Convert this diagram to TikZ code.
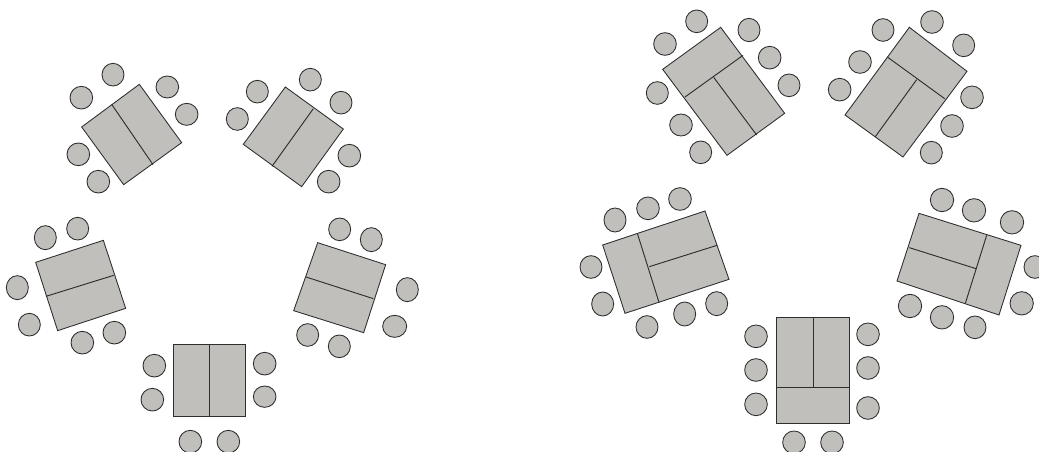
\documentclass[tikz,border=0pt]{standalone}
\usepackage{xcolor}
\definecolor{tablegray}{HTML}{C0BFBC}
\definecolor{edgegray}{HTML}{2E2E2E}
\tikzset{
  tablebox/.style={fill=tablegray,draw=edgegray,line width=0.65pt,line join=miter},
  divider/.style={draw=edgegray,line width=0.7pt},
  seat/.style={fill=tablegray,draw=edgegray,line width=0.65pt},
}
\begin{document}
\begin{tikzpicture}[x=0.25pt,y=-0.25pt,line join=round]
  \useasboundingbox (0,0) rectangle (3117,1356);
  \clip (0,0) rectangle (3117,1356);
  % five tables for four
  \begin{scope}[shift={(0,150)}]
    \draw[tablebox] (245,231) -- (418,103) -- (545,278) -- (371,404) -- cycle;
    \draw[divider] (335,163) -- (459,344);
    \draw[seat] (339,74) ellipse (33 and 34);
    \draw[seat] (244,143) circle (34);
    \draw[seat] (502,111) ellipse (34 and 33);
    \draw[seat] (560,193) ellipse (34 and 33);
    \draw[seat] (235,313) circle (34);
    \draw[seat] (295,395) circle (34);

    \draw[tablebox] (856,111) -- (1030,237) -- (905,410) -- (730,283) -- cycle;
    \draw[divider] (940,176) -- (816,349);
    \draw[seat] (931,89) ellipse (33 and 34);
    \draw[seat] (772,125) ellipse (33 and 34);
    \draw[seat] (1023,158) ellipse (33 and 34);
    \draw[seat] (712,207) ellipse (33 and 34);
    \draw[seat] (1048,317) circle (34);
    \draw[seat] (986,395) circle (34);

    \draw[tablebox] (107,637) -- (310,571) -- (377,775) -- (173,842) -- cycle;
    \draw[divider] (138,739) -- (341,676);
    \draw[seat] (136,563) ellipse (33 and 36);
    \draw[seat] (233,536) ellipse (33 and 34);
    \draw[seat] (52,713) ellipse (33 and 36);
    \draw[seat] (88,824) ellipse (33 and 34);
    \draw[seat] (247,878) circle (34);
    \draw[seat] (343,848) circle (34);

    \draw[tablebox] (953,578) -- (1157,644) -- (1091,848) -- (881,782) -- cycle;
    \draw[divider] (918,681) -- (1120,746);
    \draw[seat] (1019,538) ellipse (33 and 34);
    \draw[seat] (1114,569) ellipse (33 and 36);
    \draw[seat] (1222,719) ellipse (33 and 36);
    \draw[seat] (1184,829) ellipse (36 and 33);
    \draw[seat] (923,855) ellipse (33 and 34);
    \draw[seat] (1018,889) ellipse (33 and 34);

    \draw[tablebox] (521,884) -- (737,884) -- (737,1100) -- (521,1100) -- cycle;
    \draw[divider] (629,884) -- (629,1100);
    \draw[seat] (463,947) circle (34);
    \draw[seat] (457,1049) circle (34);
    \draw[seat] (794,941) circle (34);
    \draw[seat] (794,1040) ellipse (34 and 32);
    \draw[seat] (571,1175) circle (34);
    \draw[seat] (685,1175) circle (34);
  \end{scope}
  % five tables for six or eight
  \begin{scope}[shift={(1710,0)}]
    \draw[tablebox] (278,208) -- (452,82) -- (644,340) -- (471,466) -- cycle;
    \draw[divider] (345,291) -- (519,166);
    \draw[divider] (431,232) -- (560,405);
    \draw[seat] (380,64) ellipse (33 and 34);
    \draw[seat] (285,132) circle (34);
    \draw[seat] (537,90) ellipse (33 and 35);
    \draw[seat] (599,173) circle (34);
    \draw[seat] (657,256) ellipse (33 and 34);
    \draw[seat] (262,279) ellipse (33 and 34);
    \draw[seat] (333,375) ellipse (34 and 33);
    \draw[seat] (392,457) ellipse (33 and 34);

    \draw[tablebox] (1018,82) -- (1191,214) -- (999,471) -- (825,345) -- cycle;
    \draw[divider] (952,171) -- (1124,296);
    \draw[divider] (1040,239) -- (916,410);
    \draw[seat] (939,90) ellipse (33 and 34);
    \draw[seat] (1086,66) circle (34);
    \draw[seat] (1181,136) ellipse (33 and 34);
    \draw[seat] (870,186) circle (34);
    \draw[seat] (1206,292) circle (34);
    \draw[seat] (809,269) circle (34);
    \draw[seat] (1146,378) circle (34);
    \draw[seat] (1084,458) ellipse (33 and 34);

    \draw[tablebox] (98,735) -- (405,633) -- (477,838) -- (165,940) -- cycle;
    \draw[divider] (202,700) -- (267,907);
    \draw[divider] (238,800) -- (441,736);
    \draw[seat] (135,660) ellipse (33 and 36);
    \draw[seat] (234,625) circle (34);
    \draw[seat] (330,597) circle (34);
    \draw[seat] (63,801) ellipse (33 and 34);
    \draw[seat] (98,912) ellipse (33 and 36);
    \draw[seat] (440,911) ellipse (33 and 36);
    \draw[seat] (344,942) ellipse (33 and 36);
    \draw[seat] (231,981) ellipse (33 and 34);

    \draw[tablebox] (1047,640) -- (1353,736) -- (1287,945) -- (981,843) -- cycle;
    \draw[divider] (1250,706) -- (1186,910);
    \draw[divider] (1018,743) -- (1218,806);
    \draw[seat] (1116,600) circle (35);
    \draw[seat] (1212,631) circle (35);
    \draw[seat] (1326,667) circle (35);
    \draw[seat] (1395,801) ellipse (33 and 34);
    \draw[seat] (1355,910) circle (35);
    \draw[seat] (1020,918) circle (35);
    \draw[seat] (1116,952) circle (35);
    \draw[seat] (1215,982) ellipse (33 and 34);

    \draw[tablebox] (620,952) -- (837,952) -- (837,1270) -- (620,1270) -- cycle;
    \draw[divider] (620,1161) -- (837,1161);
    \draw[divider] (729,952) -- (729,1161);
    \draw[seat] (558,1009) circle (34);
    \draw[seat] (558,1110) circle (34);
    \draw[seat] (558,1213) circle (34);
    \draw[seat] (894,1003) circle (34);
    \draw[seat] (894,1104) circle (34);
    \draw[seat] (894,1224) circle (34);
    \draw[seat] (672,1327) circle (34);
    \draw[seat] (786,1327) circle (34);
  \end{scope}
\end{tikzpicture}
\end{document}
